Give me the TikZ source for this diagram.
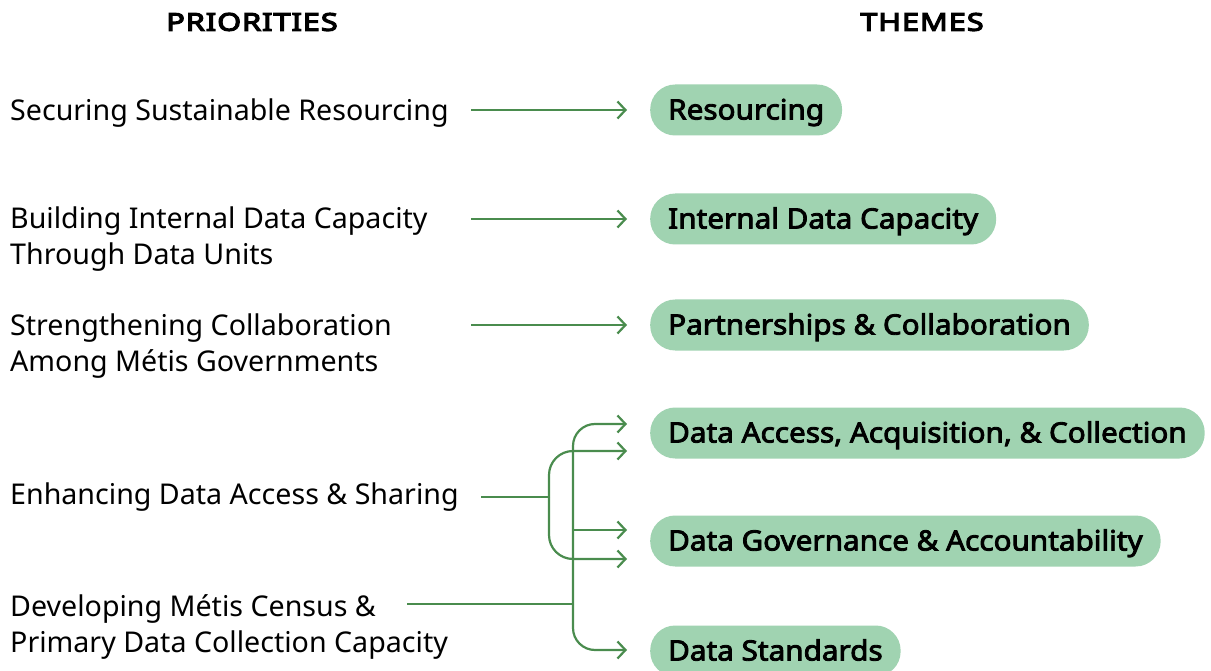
\documentclass[tikz,border=0pt]{standalone}
\usepackage{fontspec}
\setmainfont{Noto Sans}
\newfontfamily\pillfont{Noto Sans}[FakeBold=3,FakeStretch=1.06]
\newfontfamily\headfont{Noto Sans}[FakeBold=5,FakeStretch=1.25,LetterSpace=4]
\usetikzlibrary{arrows.meta}
\definecolor{pillfill}{HTML}{A0D3B1}
\definecolor{linegreen}{HTML}{4A8C4E}
\tikzset{
  prio/.style={anchor=west, inner sep=0pt, align=left, font=\fontsize{28.6}{36}\selectfont, text=black},
  head/.style={inner sep=0pt, font=\headfont\fontsize{24.5}{30}\selectfont},
  pill/.style={anchor=west, fill=pillfill, rounded corners=25pt, minimum height=51pt, inner xsep=18pt, inner ysep=0pt, text height=22pt, text depth=3pt, font=\pillfont\fontsize{28}{32}\selectfont, text=black},
  conn/.style={draw=linegreen, line width=2.2pt},
  arr/.style={conn, -{Straight Barb[length=8pt,width=17pt,line width=2.2pt]}},
}
\begin{document}
\begin{tikzpicture}[x=1pt,y=-1pt]
\useasboundingbox (0,0) rectangle (1211,671);
\node[head] (hp) at (252,22) {PRIORITIES};
\node[head] (ht) at (922,22) {THEMES};

\node[prio] (p1) at (10,113) {Securing Sustainable Resourcing};
\node[prio] (p2) at (10,239) {Building Internal Data Capacity\\Through Data Units};
\node[prio] (p3) at (10,346) {Strengthening Collaboration\\Among Métis Governments};
\node[prio] (p4) at (10,497) {Enhancing Data Access \& Sharing};
\node[prio] (p5) at (10,627) {Developing Métis Census \&\\Primary Data Collection Capacity};

\node[pill] (t1) at (650,110) {Resourcing};
\node[pill] (t2) at (650,219) {Internal Data Capacity};
\node[pill] (t3) at (650,325) {Partnerships \& Collaboration};
\node[pill] (t4) at (650,433) {Data Access, Acquisition, \& Collection};
\node[pill] (t5) at (650,541) {Data Governance \& Accountability};
\node[pill] (t6) at (650,651) {Data Standards};

\coordinate (a1) at (471,110);
\coordinate (a2) at (471,219);
\coordinate (a3) at (471,325);
\draw[arr, shorten >=23pt] (a1) -- (t1.west);
\draw[arr, shorten >=23pt] (a2) -- (t2.west);
\draw[arr, shorten >=23pt] (a3) -- (t3.west);

% Enhancing branch
\coordinate (e0) at (481,497);
\coordinate (e1) at (549,497);
\coordinate (e4) at (627,451);
\coordinate (e5) at (627,559);
\draw[conn] (e0) -- (e1);
\draw[arr, rounded corners=24pt] (e1) |- (e4);
\draw[arr, rounded corners=24pt] (e1) |- (e5);

% Developing branch
\coordinate (d0) at (407,604);
\coordinate (d1) at (573,604);
\coordinate (dm) at (573,530);
\coordinate (d4) at (627,424);
\coordinate (d5) at (627,530);
\coordinate (d6) at (627,650);
\draw[conn] (d0) -- (d1);
\draw[arr, rounded corners=22pt] (d1) |- (d4);
\draw[arr] (dm) -- (d5);
\draw[arr, rounded corners=22pt] (d1) |- (d6);
\end{tikzpicture}
\end{document}
